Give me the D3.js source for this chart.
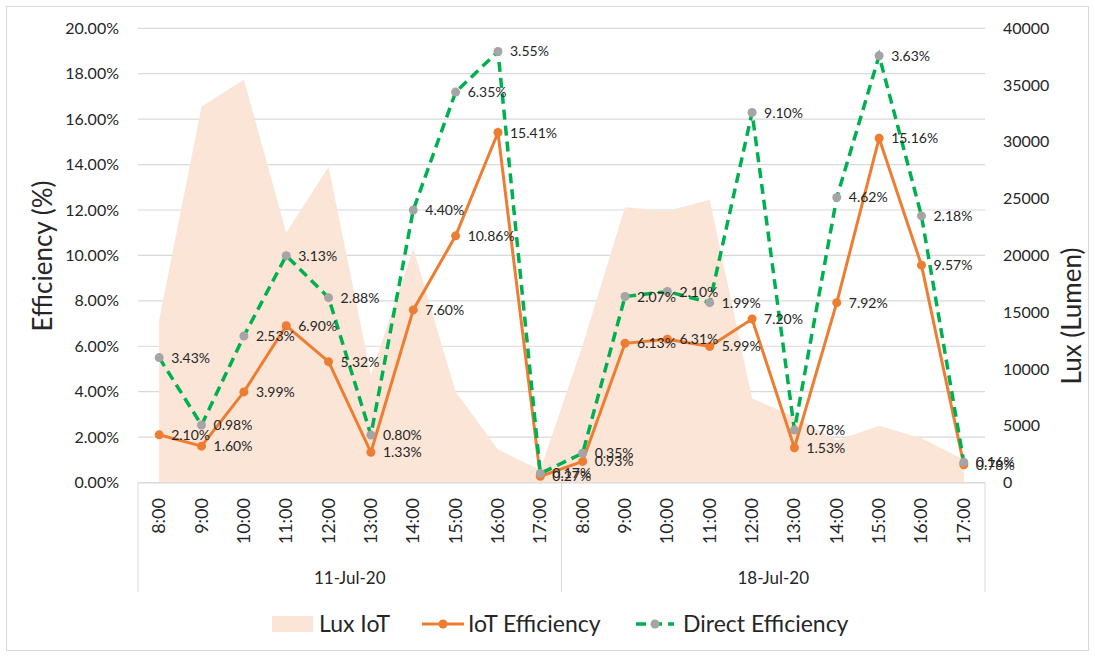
<!DOCTYPE html>
<html lang="en">
<head>
<meta charset="UTF-8">
<title>Efficiency vs Lux</title>
<script src="https://cdn.jsdelivr.net/npm/d3@7/dist/d3.min.js"></script>
<style>
  body { margin: 0; background: #fff; }
  text { font-family: Lato, "Open Sans", sans-serif; fill: #262626; }
</style>
</head>
<body>
<script>
// data
var dates = ["11-Jul-20", "18-Jul-20"];
var hours = ["8:00", "9:00", "10:00", "11:00", "12:00", "13:00", "14:00", "15:00", "16:00", "17:00"];
var luxIoT = [14300, 33100, 35500, 22000, 27800, 9500, 20600, 8000, 2900, 1100,
              12100, 24250, 23900, 24900, 7400, 5800, 3700, 5000, 3900, 2000];
var iotEff = [2.10, 1.60, 3.99, 6.90, 5.32, 1.33, 7.60, 10.86, 15.41, 0.27,
              0.93, 6.13, 6.31, 5.99, 7.20, 1.53, 7.92, 15.16, 9.57, 0.78];
var directEff = [5.50, 2.53, 6.45, 9.99, 8.14, 2.09, 12.0, 17.19, 18.98, 0.40,
                 1.29, 8.19, 8.41, 7.92, 16.29, 2.31, 12.55, 18.79, 11.74, 0.89];
var directLabels = ["3.43%", "0.98%", "2.53%", "3.13%", "2.88%", "0.80%", "4.40%", "6.35%", "3.55%", "0.17%",
                    "0.35%", "2.07%", "2.10%", "1.99%", "9.10%", "0.78%", "4.62%", "3.63%", "2.18%", "0.16%"];
var effTicks = [0, 2, 4, 6, 8, 10, 12, 14, 16, 18, 20];
var luxTicks = [0, 5000, 10000, 15000, 20000, 25000, 30000, 35000, 40000];

var cats = [];
dates.forEach(function (d) {
  hours.forEach(function (h) { cats.push(d + " " + h); });
});

var W = 1095, H = 656;
var plotLeft = 138, plotRight = 985, plotTop = 28.3, plotBottom = 482.5;

var svg = d3.select("body").append("svg").attr("width", W).attr("height", H);

svg.append("rect").attr("x", 6.5).attr("y", 6.5).attr("width", 1082).attr("height", 644)
  .attr("fill", "none").attr("stroke", "#d9d9d9");

var x = d3.scaleBand().domain(cats).range([plotLeft, plotRight]).padding(0);
var cx = function (i) { return x(cats[i]) + x.bandwidth() / 2; };
var y = d3.scaleLinear().domain([0, 20]).range([plotBottom, plotTop]);
var y2 = d3.scaleLinear().domain([0, 40000]).range([plotBottom, plotTop]);

// gridlines
svg.append("g").selectAll("line").data(effTicks).join("line")
  .attr("x1", plotLeft).attr("x2", plotRight)
  .attr("y1", function (d) { return y(d); }).attr("y2", function (d) { return y(d); })
  .attr("stroke", "#d9d9d9").attr("stroke-width", 1.2);

// area
var area = d3.area().x(function (d, i) { return cx(i); }).y0(plotBottom).y1(function (d) { return y2(d); });
svg.append("path").datum(luxIoT).attr("d", area).attr("fill", "#fbe5d6");

// axes
var yAxis = d3.axisLeft(y).tickValues(effTicks).tickSize(0).tickPadding(19)
  .tickFormat(function (d) { return d.toFixed(2) + "%"; });
var gy = svg.append("g").attr("transform", "translate(" + plotLeft + ",0)").call(yAxis);
gy.select(".domain").remove();
gy.selectAll("text").style("font-size", "16px").attr("fill", "#262626");

var y2Axis = d3.axisRight(y2).tickValues(luxTicks).tickSize(0).tickPadding(18).tickFormat(d3.format("d"));
var gy2 = svg.append("g").attr("transform", "translate(" + plotRight + ",0)").call(y2Axis);
gy2.select(".domain").remove();
gy2.selectAll("text").style("font-size", "16px").attr("fill", "#262626");

// category axis
svg.append("line").attr("x1", plotLeft).attr("x2", plotRight).attr("y1", plotBottom + 0.5).attr("y2", plotBottom + 0.5)
  .attr("stroke", "#d9d9d9");
var seps = [0, hours.length, cats.length];
svg.append("g").selectAll("line").data(seps).join("line")
  .attr("x1", function (d) { return d < cats.length ? x(cats[d]) : plotRight; })
  .attr("x2", function (d) { return d < cats.length ? x(cats[d]) : plotRight; })
  .attr("y1", plotBottom).attr("y2", 592)
  .attr("stroke", "#d9d9d9");

svg.append("g").selectAll("text").data(cats).join("text")
  .attr("transform", function (d, i) { return "translate(" + (cx(i) + 6) + ",498) rotate(-90)"; })
  .attr("text-anchor", "end")
  .style("font-size", "18px")
  .text(function (d, i) { return hours[i % hours.length]; });

svg.append("g").selectAll("text").data(dates).join("text")
  .attr("x", function (d, k) { return (cx(k * hours.length) + cx(k * hours.length + hours.length - 1)) / 2; })
  .attr("y", 584)
  .attr("text-anchor", "middle")
  .style("font-size", "17px")
  .text(function (d) { return d; });

// axis titles
svg.append("text").attr("transform", "translate(52,256) rotate(-90)")
  .attr("text-anchor", "middle").style("font-size", "26px").text("Efficiency (%)");
svg.append("text").attr("transform", "translate(1081,316) rotate(-90)")
  .attr("text-anchor", "middle").style("font-size", "26px").text("Lux (Lumen)");

// lines
var line = d3.line().x(function (d, i) { return cx(i); }).y(function (d) { return y(d); });
svg.append("path").datum(iotEff).attr("d", line)
  .attr("fill", "none").attr("stroke", "#ed7d31").attr("stroke-width", 3);
svg.append("g").selectAll("circle").data(iotEff).join("circle")
  .attr("cx", function (d, i) { return cx(i); }).attr("cy", function (d) { return y(d); })
  .attr("r", 4.5).attr("fill", "#ed7d31");

svg.append("path").datum(directEff).attr("d", line)
  .attr("fill", "none").attr("stroke", "#00b050").attr("stroke-width", 3.5)
  .attr("stroke-dasharray", "10,6");
svg.append("g").selectAll("circle").data(directEff).join("circle")
  .attr("cx", function (d, i) { return cx(i); }).attr("cy", function (d) { return y(d); })
  .attr("r", 4.5).attr("fill", "#a5a5a5");

// data labels
svg.append("g").selectAll("text").data(iotEff).join("text")
  .attr("x", function (d, i) { return cx(i) + 12; })
  .attr("y", function (d) { return y(d) + 5; })
  .style("font-size", "14px")
  .text(function (d) { return d.toFixed(2) + "%"; });
svg.append("g").selectAll("text").data(directEff).join("text")
  .attr("x", function (d, i) { return cx(i) + 12; })
  .attr("y", function (d) { return y(d) + 5; })
  .style("font-size", "14px")
  .text(function (d, i) { return directLabels[i]; });

// legend
var lg = svg.append("g");
lg.append("rect").attr("x", 272).attr("y", 616).attr("width", 41).attr("height", 16).attr("fill", "#fbe5d6");
lg.append("text").attr("x", 319).attr("y", 632).style("font-size", "23px").text("Lux IoT");
lg.append("line").attr("x1", 422).attr("x2", 464).attr("y1", 624).attr("y2", 624)
  .attr("stroke", "#ed7d31").attr("stroke-width", 3);
lg.append("circle").attr("cx", 443).attr("cy", 624).attr("r", 4.5).attr("fill", "#ed7d31");
lg.append("text").attr("x", 468).attr("y", 632).style("font-size", "23px").text("IoT Efficiency");
lg.append("line").attr("x1", 636).attr("x2", 674).attr("y1", 624).attr("y2", 624)
  .attr("stroke", "#00b050").attr("stroke-width", 3.5).attr("stroke-dasharray", "10,6");
lg.append("circle").attr("cx", 655).attr("cy", 624).attr("r", 4.5).attr("fill", "#a5a5a5");
lg.append("text").attr("x", 683).attr("y", 632).style("font-size", "23px").text("Direct Efficiency");
</script>
</body>
</html>
